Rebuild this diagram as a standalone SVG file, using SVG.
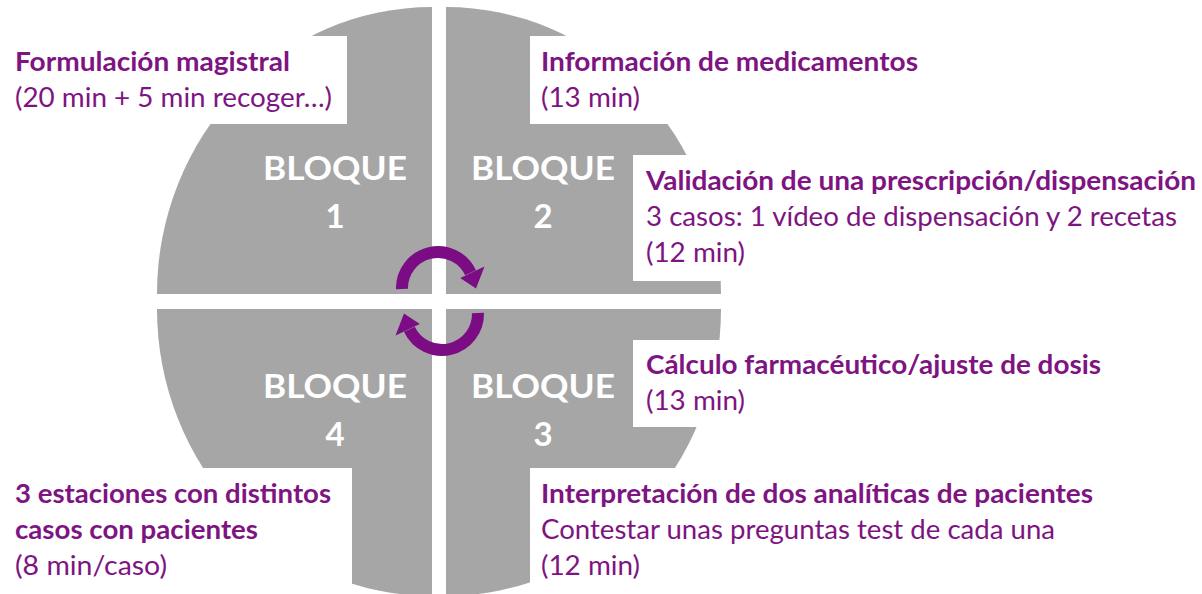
<svg xmlns="http://www.w3.org/2000/svg" width="1202" height="594" viewBox="0 0 1202 594">
  <style>
    .pie { fill: #A6A6A6; }
    .box { fill: #FFFFFF; }
    .blq { font-family: Lato, "Liberation Sans", sans-serif; font-weight: bold; font-size: 33px; fill: #FFFFFF; text-anchor: middle; }
    .hd { font-family: Lato, "Liberation Sans", sans-serif; font-weight: bold; font-size: 27px; fill: #7E1481; }
    .tx { font-family: Lato, "Liberation Sans", sans-serif; font-size: 27px; fill: #7E1481; }
    .arc { fill: none; stroke: #7B0C84; stroke-width: 12; }
    .head { fill: #7B0C84; }
  </style>
  <rect width="1202" height="594" fill="#FFFFFF"/>

  <g id="bloque1">
    <path class="pie" d="M432,294 L157,294 A275,287 0 0 1 432,7 Z"/>
    <rect class="box" x="0" y="36" width="347" height="88"/>
    <text class="blq" x="335" y="180" textLength="144" lengthAdjust="spacingAndGlyphs">BLOQUE</text>
    <text class="blq" x="335" y="228">1</text>
    <text class="hd" x="15" y="71" textLength="275" lengthAdjust="spacingAndGlyphs">Formulación magistral</text>
    <text class="tx" x="15" y="107" textLength="317" lengthAdjust="spacingAndGlyphs">(20 min + 5 min recoger…)</text>
  </g>

  <g id="bloque2">
    <path class="pie" d="M446,294 L446,7 A275,287 0 0 1 721,294 Z"/>
    <rect class="box" x="530" y="36" width="672" height="88"/>
    <rect class="box" x="633" y="155" width="569" height="126"/>
    <text class="blq" x="543" y="180" textLength="144" lengthAdjust="spacingAndGlyphs">BLOQUE</text>
    <text class="blq" x="543" y="228">2</text>
    <text class="hd" x="541" y="71" textLength="377" lengthAdjust="spacingAndGlyphs">Información de medicamentos</text>
    <text class="tx" x="541" y="107" textLength="99" lengthAdjust="spacingAndGlyphs">(13 min)</text>
    <text class="hd" x="646" y="190" textLength="550" lengthAdjust="spacingAndGlyphs">Validación de una prescripción/dispensación</text>
    <text class="tx" x="646" y="226" textLength="531" lengthAdjust="spacingAndGlyphs">3 casos: 1 vídeo de dispensación y 2 recetas</text>
    <text class="tx" x="646" y="262" textLength="99" lengthAdjust="spacingAndGlyphs">(12 min)</text>
  </g>

  <g id="bloque3">
    <path class="pie" d="M446,309 L721,309 A275,287 0 0 1 446,596 Z"/>
    <rect class="box" x="633" y="340" width="569" height="87"/>
    <rect class="box" x="530" y="468" width="672" height="126"/>
    <text class="blq" x="543" y="398" textLength="144" lengthAdjust="spacingAndGlyphs">BLOQUE</text>
    <text class="blq" x="543" y="446">3</text>
    <text class="hd" x="646" y="374" textLength="455" lengthAdjust="spacingAndGlyphs">Cálculo farmacéutico/ajuste de dosis</text>
    <text class="tx" x="646" y="410" textLength="99" lengthAdjust="spacingAndGlyphs">(13 min)</text>
    <text class="hd" x="541" y="503" textLength="552" lengthAdjust="spacingAndGlyphs">Interpretación de dos analíticas de pacientes</text>
    <text class="tx" x="541" y="539" textLength="514" lengthAdjust="spacingAndGlyphs">Contestar unas preguntas test de cada una</text>
    <text class="tx" x="541" y="575" textLength="99" lengthAdjust="spacingAndGlyphs">(12 min)</text>
  </g>

  <g id="bloque4">
    <path class="pie" d="M432,309 L432,596 A275,287 0 0 1 157,309 Z"/>
    <rect class="box" x="0" y="468" width="352" height="126"/>
    <text class="blq" x="335" y="398" textLength="144" lengthAdjust="spacingAndGlyphs">BLOQUE</text>
    <text class="blq" x="335" y="446">4</text>
    <text class="hd" x="15" y="503" textLength="316" lengthAdjust="spacingAndGlyphs">3 estaciones con distintos</text>
    <text class="hd" x="15" y="539" textLength="243" lengthAdjust="spacingAndGlyphs">casos con pacientes</text>
    <text class="tx" x="15" y="575" textLength="152" lengthAdjust="spacingAndGlyphs">(8 min/caso)</text>
  </g>

  <g id="connectors">
    <g id="arrow-top">
      <path class="arc" d="M402,289 A36,36 0 0 1 470.6,272.8"/>
      <polygon class="head" points="460.2,278 484.5,266.5 476,288.5"/>
    </g>
    <g id="arrow-bottom" transform="rotate(180 440 301)">
      <path class="arc" d="M402,289 A36,36 0 0 1 470.6,272.8"/>
      <polygon class="head" points="460.2,278 484.5,266.5 476,288.5"/>
    </g>
  </g>
</svg>
